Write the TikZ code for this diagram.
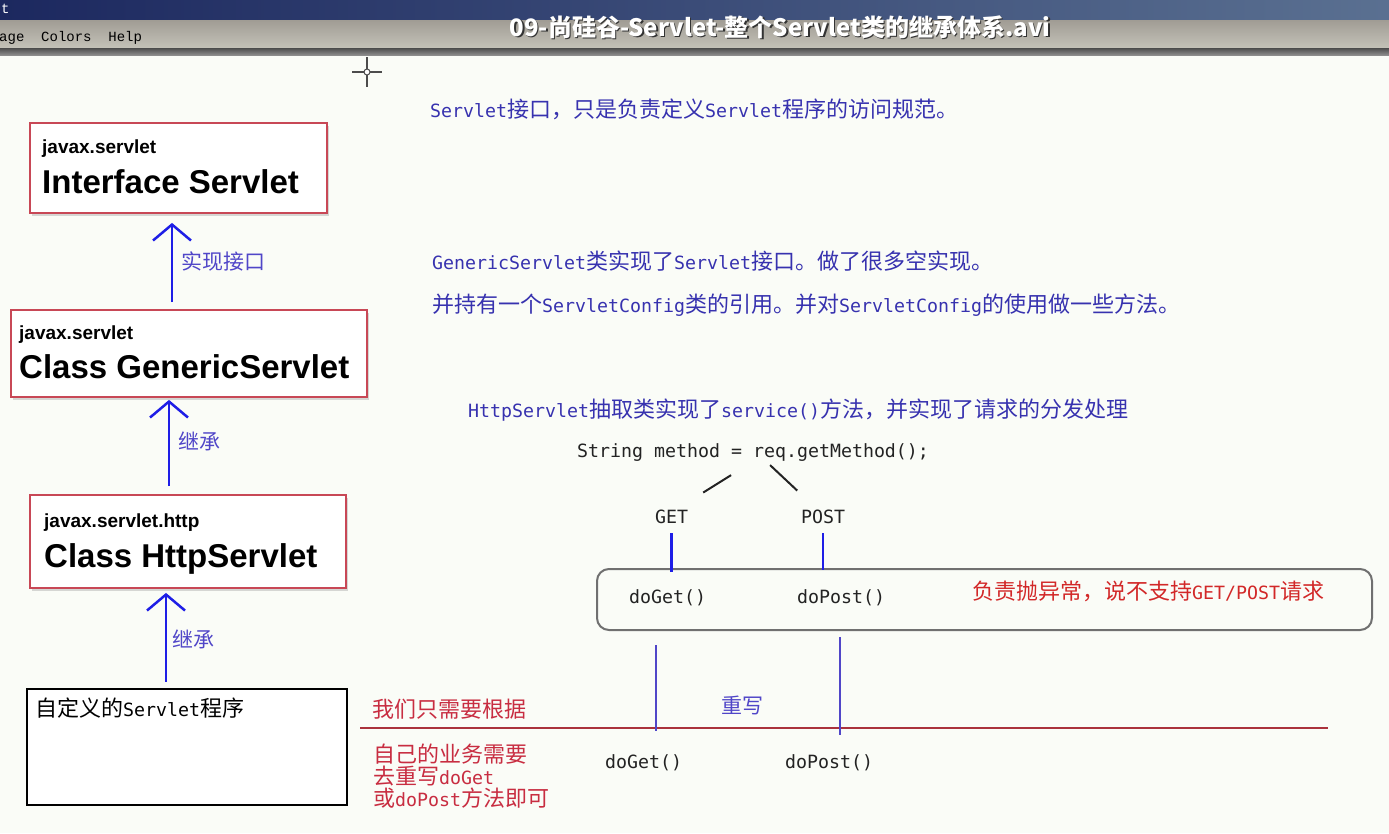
\documentclass[tikz,border=0pt]{standalone}
\usepackage{fontspec}
\setmainfont{Liberation Sans}
\newfontfamily\cjk{Noto Sans CJK SC}
\newfontfamily\codefont[Scale=0.83]{DejaVu Sans Mono}
\newfontfamily\menufont{Liberation Mono}
\usetikzlibrary{arrows.meta,shadows,positioning}
\definecolor{bgcolor}{RGB}{250,252,247}
\definecolor{boxred}{RGB}{200,72,86}
\definecolor{boxgray}{RGB}{112,112,112}
\definecolor{arrowblue}{RGB}{30,30,230}
\definecolor{labelblue}{RGB}{80,70,200}
\definecolor{noteblue}{RGB}{55,50,175}
\definecolor{notered}{RGB}{210,40,40}
\definecolor{hintred}{RGB}{200,45,65}
\definecolor{linered}{RGB}{170,50,60}
\definecolor{codeblack}{RGB}{35,35,35}
\definecolor{barnavyL}{RGB}{28,40,95}
\definecolor{barnavyR}{RGB}{90,112,145}
\definecolor{menutop}{RGB}{160,156,148}
\definecolor{menubot}{RGB}{196,194,184}
% latin runs inside chinese lines
\newcommand{\lat}[1]{{\codefont #1}}

\begin{document}
\begin{tikzpicture}[x=1pt,y=-1pt,
    classbox/.style={draw=boxred, line width=1.8pt, fill=white, inner sep=0pt,
        drop shadow={shadow xshift=2pt, shadow yshift=-2.5pt, opacity=0.3}},
    pkg/.style={anchor=base west, inner sep=0pt, font=\bfseries\fontsize{19}{22}\selectfont},
    cname/.style={anchor=base west, inner sep=0pt, font=\bfseries\fontsize{33}{36}\selectfont},
    lbl/.style={anchor=base west, inner sep=0pt, text=labelblue, font=\cjk\fontsize{21}{21}\selectfont},
    note/.style={anchor=base west, inner sep=0pt, text=noteblue, font=\cjk\fontsize{22}{22}\selectfont},
    code/.style={anchor=base west, inner sep=0pt, text=codeblack, font=\codefont\fontsize{22}{22}\selectfont},
    inherit/.style={draw=arrowblue, line width=2.5pt, -{Straight Barb[length=16pt,width=38pt,line width=2.5pt]}},
    tick/.style={draw=arrowblue, line width=2.5pt},
    overline/.style={draw=labelblue, line width=1.5pt},
    fork/.style={draw=codeblack, line width=2pt},
    dispatch/.style={draw=boxgray, line width=2pt, rounded corners=12pt, inner sep=0pt,
        minimum width=775pt, minimum height=61pt}
]
\useasboundingbox (0,0) rectangle (1389,833);
\fill[bgcolor] (0,0) rectangle (1389,833);

% window bars
\shade[left color=barnavyL, right color=barnavyR] (0,0) rectangle (1389,20);
\shade[top color=menutop, bottom color=menubot] (0,20) rectangle (1389,48);
\shade[top color=black!70, bottom color=black!45] (0,48) rectangle (1389,55);
\node[anchor=base west, inner sep=0pt, text=white, font=\menufont\fontsize{14}{14}\selectfont] (wintitle) at (1,13) {t};
\node[anchor=base west, inner sep=0pt, font=\menufont\fontsize{14}{14}\selectfont] (menu) at (-1,41) {age\ \ Colors\ \ Help};
\node[anchor=base, inner sep=0pt, text=black!80, font=\cjk\bfseries\fontsize{24}{26}\selectfont] (titleshadow) at (781.5,37.5) {09-尚硅谷-Servlet-整个Servlet类的继承体系.avi};
\node[anchor=base, inner sep=0pt, text=white, font=\cjk\bfseries\fontsize{24}{26}\selectfont] (title) at (780,36) {09-尚硅谷-Servlet-整个Servlet类的继承体系.avi};

% cursor
\draw[black!70, line width=1.5pt] (352,72) -- (382,72) (367,57) -- (367,87);
\draw[black!70, fill=white, line width=1pt] (367,72) circle (3);

% class hierarchy
\node[classbox, minimum width=297pt, minimum height=90pt] (servlet) at (178.5,168) {};
\node[pkg] (servletpkg) at (42,153) {javax.servlet};
\node[cname] (servletname) at (42,193) {Interface Servlet};

\node[classbox, minimum width=356pt, minimum height=87pt] (generic) at (189,353.5) {};
\node[pkg] (genericpkg) at (19,339) {javax.servlet};
\node[cname] (genericname) at (19,378) {Class GenericServlet};

\node[classbox, minimum width=316pt, minimum height=93pt] (http) at (188,541.5) {};
\node[pkg] (httppkg) at (44,527) {javax.servlet.http};
\node[cname] (httpname) at (44,567) {Class HttpServlet};

\node[draw=black, line width=2.5pt, fill=white, minimum width=320pt, minimum height=116pt] (custom) at (187,747) {};
\node[anchor=base west, inner sep=0pt, font=\cjk\fontsize{22}{22}\selectfont] (customname) at (35,716) {自定义的\lat{Servlet}程序};

\coordinate (ax1) at (172,0);
\coordinate (ax2) at (169,0);
\coordinate (ax3) at (166,0);
\draw[inherit, shorten <=7pt, shorten >=9pt] (generic.north -| ax1) -- (servlet.south -| ax1);
\draw[inherit, shorten <=8pt, shorten >=2pt] (http.north -| ax2) -- (generic.south -| ax2);
\draw[inherit, shorten <=6pt, shorten >=4pt] (custom.north -| ax3) -- (http.south -| ax3);
\node[lbl] (implements) at (181,269) {实现接口};
\node[lbl] (extends1) at (178,449) {继承};
\node[lbl] (extends2) at (172,647) {继承};

% notes
\node[note] (servletnote) at (430,117) {\lat{Servlet}接口，只是负责定义\lat{Servlet}程序的访问规范。};
\node[note] (genericnote) at (432,269) {\lat{GenericServlet}类实现了\lat{Servlet}接口。做了很多空实现。};
\node[note] (confignote) at (432,312) {并持有一个\lat{ServletConfig}类的引用。并对\lat{ServletConfig}的使用做一些方法。};
\node[note] (httpnote) at (468,417) {\lat{HttpServlet}抽取类实现了\lat{service()}方法，并实现了请求的分发处理};

% dispatch
\node[code] (method) at (577,457) {String method = req.getMethod();};
\node[code] (get) at (655,523) {GET};
\node[code] (post) at (801,523) {POST};
\draw[fork] ([shift={(-22,14)}]method.south) -- ([shift={(31.5,-16.7)}]get.north);
\draw[fork] ([shift={(17,4)}]method.south) -- ([shift={(-26,-18.7)}]post.north);

\node[dispatch] (service) at (984.5,599.5) {};
\node[code] (doget) at (629,603) {doGet()};
\node[code] (dopost) at (797,603) {doPost()};
\node[note, text=notered] (unsupported) at (972,599) {负责抛异常，说不支持\lat{GET/POST}请求};
\draw[tick, shorten <=10pt, shorten >=-4pt] (get.south) -- (get.south |- service.north);
\draw[tick, shorten <=10pt, shorten >=-2pt] (post.south) -- (post.south |- service.north);

% overriding
\coordinate (baseL) at (360,728);
\coordinate (baseR) at (1328,728);
\draw[linered, line width=2pt] (baseL) -- (baseR);
\coordinate (ovget) at (656,645);
\coordinate (ovpost) at (840,637);
\draw[overline] (ovget) -- ++(0,86);
\draw[overline] (ovpost) -- ++(0,98);
\node[lbl] (override) at (721,713) {重写};
\node[note, text=hintred] (hint1) at (372,717) {我们只需要根据};
\node[note, text=hintred] (hint2) at (373,762) {自己的业务需要};
\node[note, text=hintred] (hint3) at (373,784) {去重写\lat{doGet}};
\node[note, text=hintred] (hint4) at (373,806) {或\lat{doPost}方法即可};
\node[code] (doget2) at (605,768) {doGet()};
\node[code] (dopost2) at (785,768) {doPost()};
\end{tikzpicture}
\end{document}
